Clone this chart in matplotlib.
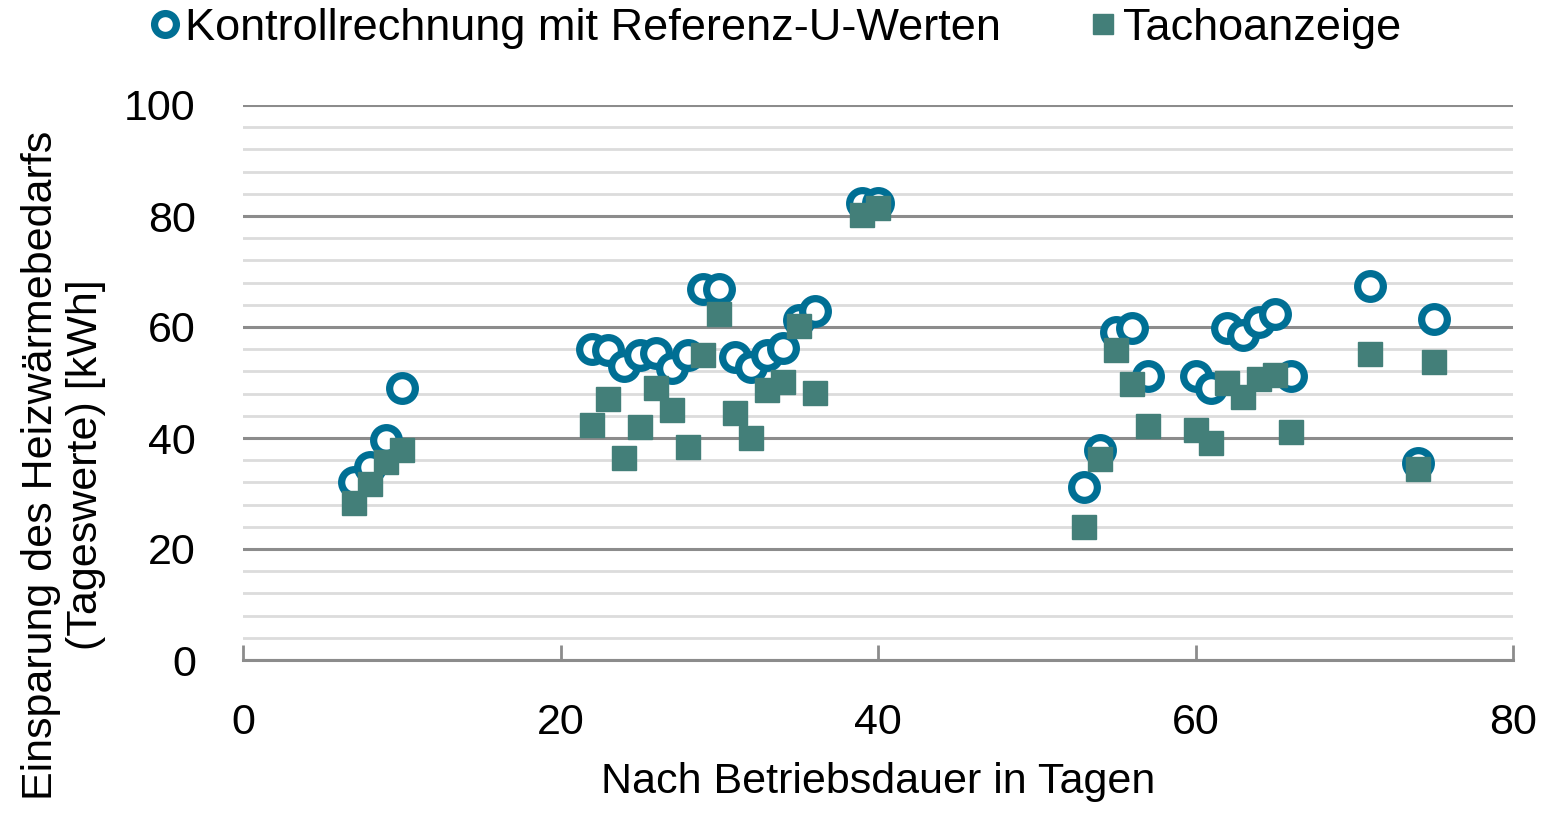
import numpy as np
import matplotlib as mpl
import matplotlib.pyplot as plt

mpl.rcParams["font.family"] = ["Liberation Sans", "DejaVu Sans"]

# days after start of operation
days = [7, 8, 9, 10, 22, 23, 24, 25, 26, 27, 28, 29, 30, 31, 32, 33, 34, 35, 36,
        39, 40, 53, 54, 55, 56, 57, 60, 61, 62, 63, 64, 65, 66, 71, 74, 75]
# control calculation with reference U-values
kontroll = [32, 34.8, 39.6, 49, 56, 55.8, 53, 55, 55.3, 52.6, 55, 66.8, 66.8, 54.6,
            52.8, 55, 56.2, 61.3, 62.9, 82.3, 82.3, 31.2, 37.8, 59.1, 59.8, 51.2,
            51.2, 49, 59.8, 58.6, 60.9, 62.3, 51.2, 67.4, 35.5, 61.4]
# speedometer display
tacho = [28.3, 31.7, 35.7, 37.8, 42.3, 47, 36.4, 42, 49, 45, 38.4, 55, 62.3, 44.5,
         40, 48.6, 50.1, 60.2, 48.1, 80.2, 81.4, 24, 36.2, 55.9, 49.7, 42.2, 41.4,
         39.1, 49.9, 47.4, 50.6, 51.4, 41.1, 55.1, 34.4, 53.7]

fig = plt.figure(figsize=(15.49, 8.17), dpi=100)
ax = fig.add_axes([243 / 1549, 1 - 660 / 817, 1270 / 1549, 555 / 817])

ax.plot(days, kontroll, linestyle="none", marker="o", markersize=18.5,
        markerfacecolor="white", markeredgecolor="#006f94", markeredgewidth=5.2,
        label="Kontrollrechnung mit Referenz-U-Werten", zorder=3)
ax.plot(days, tacho, linestyle="none", marker="s", markersize=17.5,
        color="#437f79", label="Tachoanzeige", zorder=4)

ax.set_xlim(0, 80)
ax.set_ylim(0, 100)
ax.set_xticks(np.arange(0, 81, 20))
ax.set_yticks(np.arange(0, 101, 20))
ax.set_yticks(np.arange(0, 101, 4), minor=True)
ax.grid(True, which="major", axis="y", color="#8c8c8c", linewidth=2.2)
ax.grid(True, which="minor", axis="y", color="#dcdcdc", linewidth=2)
ax.set_axisbelow(True)

for s in ["top", "right", "left"]:
    ax.spines[s].set_visible(False)
ax.spines["bottom"].set_color("#8c8c8c")
ax.spines["bottom"].set_linewidth(2.2)
ax.tick_params(axis="x", direction="in", length=11, width=2, color="#8c8c8c",
               labelsize=31, pad=31)
ax.tick_params(axis="y", which="both", length=0, labelsize=31, pad=34)

ax.set_xlabel("Nach Betriebsdauer in Tagen", fontsize=31, labelpad=14)
fig.text(0.041, 1 - 465 / 817, "Einsparung des Heizwärmebedarfs\n(Tageswerte) [kWh]",
         rotation=90, ha="center", va="center", fontsize=31, linespacing=1.14)

fig.legend(loc="upper center", bbox_to_anchor=(0.499, 1.04), ncol=2, frameon=False,
           fontsize=32.5, handletextpad=0.0, columnspacing=1.8, markerscale=0.85,
           handlelength=0.9)

fig.savefig("out.png", dpi=100)
